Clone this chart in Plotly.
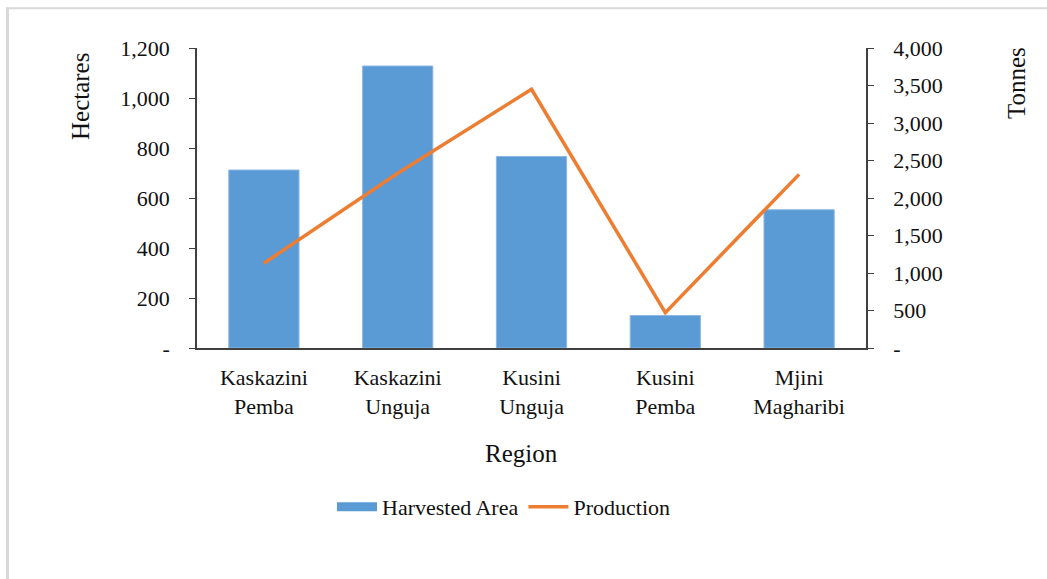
import plotly.graph_objects as go

# Data
regions = ["Kaskazini<br>Pemba", "Kaskazini<br>Unguja", "Kusini<br>Unguja",
           "Kusini<br>Pemba", "Mjini<br>Magharibi"]
harvested_area = [712, 1128, 766, 130, 553]      # hectares
production = [1130, 2330, 3450, 472, 2315]        # tonnes

left_tickvals = [0, 200, 400, 600, 800, 1000, 1200]
left_ticktext = ["-", "200", "400", "600", "800", "1,000", "1,200"]
right_tickvals = [0, 500, 1000, 1500, 2000, 2500, 3000, 3500, 4000]
right_ticktext = ["-", "500", "1,000", "1,500", "2,000", "2,500", "3,000", "3,500", "4,000"]

BLUE = "#5B9BD5"
ORANGE = "#ED7D31"
FONT = "'Liberation Serif', 'Times New Roman', Times, serif"
TXT = "#111111"

W, H = 1047, 579
ML, MR, MT, MB = 197, 181, 48, 231
PW, PH = W - ML - MR, H - MT - MB


def px_x(px):
    return (px - ML) / PW


def px_y(py):
    return (H - MB - py) / PH


fig = go.Figure()

fig.add_trace(go.Bar(
    x=regions, y=harvested_area, name="Harvested Area",
    marker=dict(color=BLUE, line=dict(color="#8DB7E2", width=1)),
    width=0.525, showlegend=False, yaxis="y",
))
# legend entry for the bars, drawn as a thick flat swatch
fig.add_trace(go.Scatter(
    x=[None], y=[None], mode="lines", name="Harvested Area",
    line=dict(color=BLUE, width=9), yaxis="y",
))
fig.add_trace(go.Scatter(
    x=regions, y=production, name="Production", mode="lines",
    line=dict(color=ORANGE, width=3.5), yaxis="y2",
))

fig.update_layout(
    width=W, height=H,
    margin=dict(l=ML, r=MR, t=MT, b=MB, pad=0),
    paper_bgcolor="white", plot_bgcolor="white",
    font=dict(family=FONT, size=22, color=TXT),
    xaxis=dict(
        type="category", showline=True, linecolor="#404040", linewidth=1.5,
        ticks="", showgrid=False, ticklabelstandoff=9,
        tickfont=dict(family=FONT, size=22, color=TXT),
        range=[-0.5, 4.5],
    ),
    yaxis=dict(
        range=[0, 1200], tickvals=left_tickvals, ticktext=left_ticktext,
        showline=True, linecolor="#404040", linewidth=1.5,
        ticks="outside", ticklen=6, tickcolor="#404040", tickwidth=1.2,
        showgrid=False, zeroline=False, ticklabelstandoff=15,
        tickfont=dict(family=FONT, size=22, color=TXT),
    ),
    yaxis2=dict(
        range=[0, 4000], tickvals=right_tickvals, ticktext=right_ticktext,
        overlaying="y", side="right",
        showline=True, linecolor="#404040", linewidth=1.5,
        ticks="outside", ticklen=6, tickcolor="#404040", tickwidth=1.2,
        showgrid=False, zeroline=False, ticklabelstandoff=15,
        tickfont=dict(family=FONT, size=22, color=TXT),
    ),
    legend=dict(
        orientation="h", xanchor="center", yanchor="middle",
        x=px_x(504), y=px_y(507),
        font=dict(family=FONT, size=22, color=TXT),
        traceorder="normal", itemwidth=40,
        bgcolor="rgba(0,0,0,0)",
    ),
    showlegend=True,
    annotations=[
        dict(text="Hectares", x=px_x(80), y=px_y(97), xref="paper", yref="paper",
             showarrow=False, textangle=-90, xanchor="center", yanchor="middle",
             font=dict(family=FONT, size=25, color=TXT)),
        dict(text="Tonnes", x=px_x(1016), y=px_y(83), xref="paper", yref="paper",
             showarrow=False, textangle=-90, xanchor="center", yanchor="middle",
             font=dict(family=FONT, size=25, color=TXT)),
        dict(text="Region", x=px_x(521), y=px_y(453), xref="paper", yref="paper",
             showarrow=False, xanchor="center", yanchor="middle",
             font=dict(family=FONT, size=25, color=TXT)),
    ],
    shapes=[
        # light frame along the top and left edges
        dict(type="line", xref="paper", yref="paper",
             x0=px_x(6), x1=px_x(W + 5), y0=px_y(8.3), y1=px_y(8.3),
             line=dict(color="#D9D9D9", width=2)),
        dict(type="line", xref="paper", yref="paper",
             x0=px_x(7.5), x1=px_x(7.5), y0=px_y(7.5), y1=px_y(H + 5),
             line=dict(color="#D9D9D9", width=3)),
    ],
)

fig.write_html("out.html")
